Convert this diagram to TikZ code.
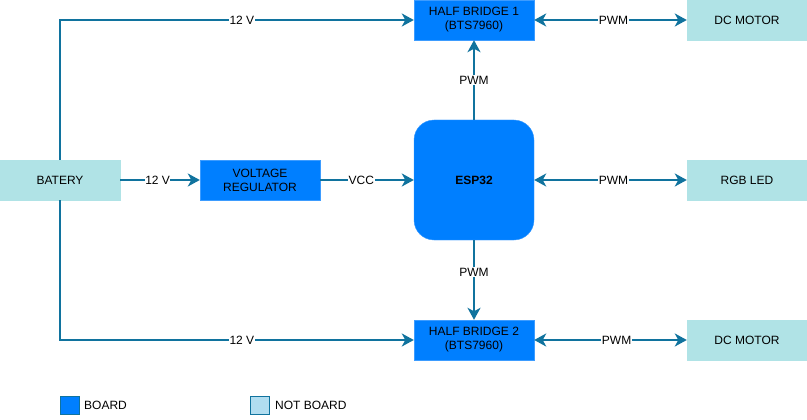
\documentclass[tikz,border=0pt]{standalone}
\usepackage{fontspec}
\setmainfont{Liberation Sans}
\usetikzlibrary{arrows.meta}
\definecolor{board}{HTML}{007FFF}
\definecolor{boardline}{HTML}{3D9CFF}
\definecolor{notboard}{HTML}{B0E3E6}
\definecolor{legnot}{HTML}{B1DDF0}
\definecolor{wire}{HTML}{10739E}
\begin{document}
\begin{tikzpicture}[x=1pt,y=-1pt,
  every node/.style={font=\fontsize{12}{14}\selectfont, inner sep=0pt, align=center},
  boardbox/.style={draw=boardline, fill=board, minimum width=120pt, minimum height=40pt},
  offbox/.style={draw=notboard, fill=notboard, minimum width=120pt, minimum height=40pt},
  wirel/.style={draw=wire, line width=2.8pt, -{Stealth[length=12pt,width=13pt,inset=3.5pt]}},
  wireb/.style={draw=wire, line width=2.8pt, {Stealth[length=12pt,width=13pt,inset=3.5pt]}-{Stealth[length=12pt,width=13pt,inset=3.5pt]}},
  lbl/.style={fill=white, inner sep=0.5pt, font=\fontsize{12}{14}\selectfont},
  legbox/.style={draw=wire, line width=0.8pt, minimum width=19pt, minimum height=18pt}]
\useasboundingbox (0,0) rectangle (807,420);
\node[boardbox] (hb1) at (474,20) {HALF BRIDGE 1\\(BTS7960)};
\node[offbox] (dc1) at (747,20) {DC MOTOR};
\node[offbox] (bat) at (60,180) {BATERY};
\node[boardbox] (vr) at (260,180) {VOLTAGE\\REGULATOR};
\node[boardbox, rounded corners=20pt, minimum height=120pt] (esp) at (474,180) {\bfseries ESP32};
\node[offbox] (rgb) at (747,180) {RGB LED};
\node[boardbox] (hb2) at (474,340) {HALF BRIDGE 2\\(BTS7960)};
\node[offbox] (dc2) at (747,340) {DC MOTOR};

\draw[wirel] (bat.north) |- node[lbl, pos=0.757] {12 V} (hb1.west);
\draw[wirel] (bat.south) |- node[lbl, pos=0.757] {12 V} (hb2.west);
\draw[wirel] (bat.east) -- node[lbl, pos=0.47] {12 V} (vr.west);
\draw[wirel] (vr.east) -- node[lbl, pos=0.44] {VCC} (esp.west);
\draw[wirel] (esp.north) -- node[lbl] {PWM} (hb1.south);
\draw[wirel] (esp.south) -- node[lbl, pos=0.4] {PWM} (hb2.north);
\draw[wireb] (hb1.east) -- node[lbl, pos=0.52] {PWM} (dc1.west);
\draw[wireb] (esp.east) -- node[lbl, pos=0.52] {PWM} (rgb.west);
\draw[wireb] (hb2.east) -- node[lbl, pos=0.54] {PWM} (dc2.west);

\node[legbox, fill=board] (lb) at (70,405) {};
\node[anchor=west] (lbt) at (84,405) {BOARD};
\node[legbox, fill=legnot] (ln) at (260,405) {};
\node[anchor=west] (lnt) at (275,405) {NOT BOARD};
\end{tikzpicture}
\end{document}
